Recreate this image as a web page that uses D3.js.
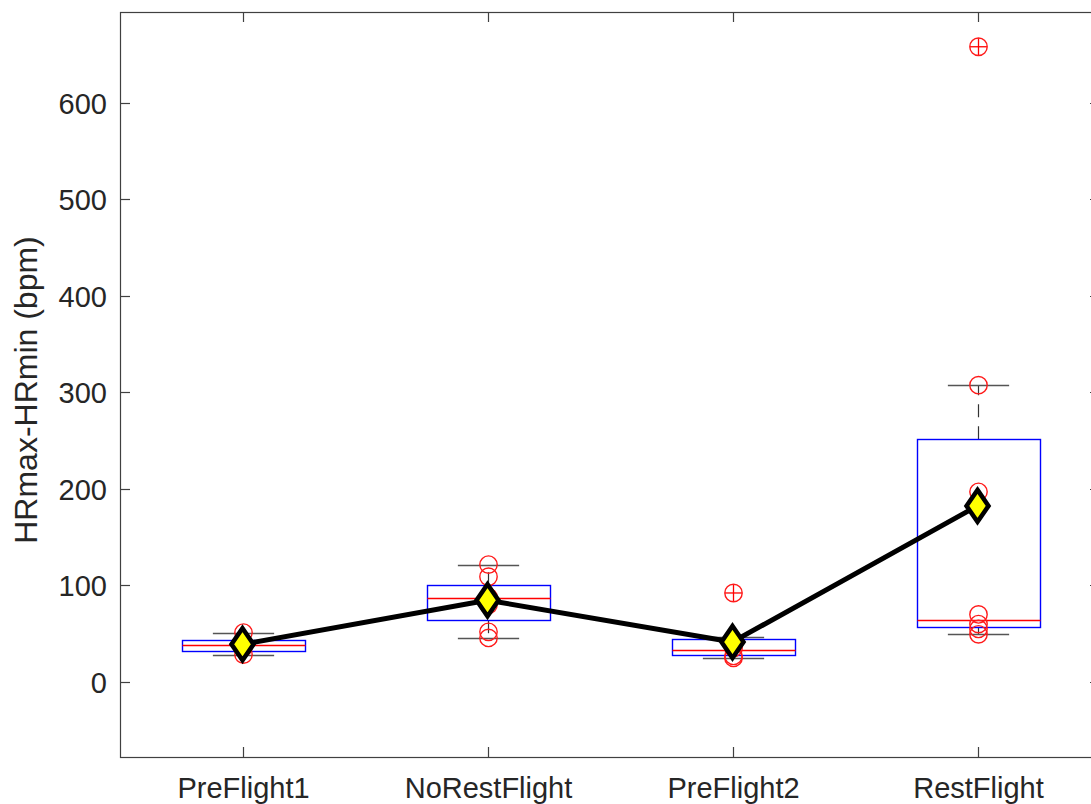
<!DOCTYPE html>
<html>
<head>
<meta charset="utf-8">
<script src="https://cdn.jsdelivr.net/npm/d3@7"></script>
<style>
  html, body { margin: 0; padding: 0; background: #fff; }
  svg { display: block; }
</style>
</head>
<body>
<svg id="chart" width="1091" height="804"></svg>
<script>
// ---- data ----
const categories = ["PreFlight1", "NoRestFlight", "PreFlight2", "RestFlight"];
const q1 = [31.8, 64, 27.7, 57];
const medians = [38.7, 87.5, 33.6, 64.7];
const q3 = [43.2, 100.2, 44.2, 251.5];
const whiskerLow = [28.4, 45.6, 24.9, 49.4];
const whiskerHigh = [51.2, 121.6, 46.6, 307.5];
const outliers = [[], [], [92.2], [658]];
const points = [
  [51.2, 28.4, 40, 36],
  [121.6, 109, 52, 45.6, 88, 80],
  [92.2, 24.9, 27, 35],
  [658, 307.5, 197, 70, 60, 55, 49.4]
];
const means = [39, 84.7, 41.5, 182.4];
const yTicks = [0, 100, 200, 300, 400, 500, 600];
const yLabel = "HRmax-HRmin (bpm)";

(function () {
// ---- layout ----
const pL = 120, pR = 1100, pT = 12, pB = 757;
const svg = d3.select("#chart");
const axisColor = "#404040";
const textColor = "#262626";
const font = "Liberation Sans, Arial, sans-serif";

const x = d3.scaleBand().domain(categories).range([pL, pR]).padding(0);
const y = d3.scaleLinear().domain([-77.7, 694]).range([pB, pT]);
const bw = x.bandwidth();
const cx = c => x(c) + bw / 2;
const snap = v => Math.round(v) + 0.5;

// axes frame
svg.append("rect").attr("x", pL + 0.5).attr("y", pT + 0.5).attr("width", pR - pL).attr("height", pB - pT)
  .attr("fill", "none").attr("stroke", axisColor).attr("stroke-width", 1.2);

// y ticks (left & right, inward)
const tl = 10;
yTicks.forEach(t => {
  const yy = snap(y(t));
  svg.append("line").attr("x1", pL).attr("x2", pL + tl).attr("y1", yy).attr("y2", yy).attr("stroke", axisColor).attr("stroke-width", 1.2);
  svg.append("line").attr("x1", pR - tl).attr("x2", pR).attr("y1", yy).attr("y2", yy).attr("stroke", axisColor).attr("stroke-width", 1.2);
  svg.append("text").attr("x", pL - 13).attr("y", yy).attr("dy", "0.35em").attr("text-anchor", "end")
    .attr("font-family", font).attr("font-size", 29).attr("fill", textColor).text(t);
});
// x ticks (bottom & top, inward)
categories.forEach(c => {
  const xx = snap(cx(c));
  svg.append("line").attr("x1", xx).attr("x2", xx).attr("y1", pB).attr("y2", pB - tl).attr("stroke", axisColor).attr("stroke-width", 1.2);
  svg.append("line").attr("x1", xx).attr("x2", xx).attr("y1", pT).attr("y2", pT + tl).attr("stroke", axisColor).attr("stroke-width", 1.2);
  svg.append("text").attr("x", xx).attr("y", 798).attr("text-anchor", "middle")
    .attr("font-family", font).attr("font-size", 29).attr("fill", textColor).text(c);
});
// y label
svg.append("text").attr("transform", `translate(37, 390) rotate(-90)`)
  .attr("text-anchor", "middle").attr("font-family", font).attr("font-size", 32).attr("fill", textColor).text(yLabel);

const g = svg.append("g");
const boxHalf = bw * 0.25, capHalf = bw * 0.125;

categories.forEach((c, i) => {
  const xc = snap(cx(c));
  // whiskers (dashed)
  g.append("line").attr("x1", xc).attr("x2", xc).attr("y1", y(q3[i])).attr("y2", y(whiskerHigh[i]))
    .attr("stroke", "#333").attr("stroke-width", 1.2).attr("stroke-dasharray", "13,9");
  g.append("line").attr("x1", xc).attr("x2", xc).attr("y1", y(q1[i])).attr("y2", y(whiskerLow[i]))
    .attr("stroke", "#333").attr("stroke-width", 1.2).attr("stroke-dasharray", "13,9");
  // caps
  [whiskerHigh[i], whiskerLow[i]].forEach(v => {
    const yy = snap(y(v));
    g.append("line").attr("x1", xc - capHalf).attr("x2", xc + capHalf).attr("y1", yy).attr("y2", yy)
      .attr("stroke", "#555").attr("stroke-width", 1.5);
  });
  // box
  const bt = snap(y(q3[i])), bb = snap(y(q1[i]));
  const bl = snap(xc - boxHalf), br = snap(xc + boxHalf);
  g.append("rect").attr("x", bl).attr("y", bt).attr("width", br - bl).attr("height", bb - bt)
    .attr("fill", "none").attr("stroke", "#0000ff").attr("stroke-width", 1.4);
  // median
  const my = snap(y(medians[i]));
  g.append("line").attr("x1", bl).attr("x2", br).attr("y1", my).attr("y2", my)
    .attr("stroke", "#ff0000").attr("stroke-width", 1.3);
  // outliers (+)
  outliers[i].forEach(v => {
    const yy = y(v), s = 8.5;
    g.append("line").attr("x1", xc - s).attr("x2", xc + s).attr("y1", yy).attr("y2", yy).attr("stroke", "#ff0000").attr("stroke-width", 1.3);
    g.append("line").attr("x1", xc).attr("x2", xc).attr("y1", yy - s).attr("y2", yy + s).attr("stroke", "#ff0000").attr("stroke-width", 1.3);
  });
  // data points (circles)
  points[i].forEach(v => {
    g.append("circle").attr("cx", xc).attr("cy", y(v)).attr("r", 8.7)
      .attr("fill", "none").attr("stroke", "#ff1a1a").attr("stroke-width", 1.4);
  });
});

// mean line
const line = d3.line().x((d, i) => cx(categories[i])).y(d => y(d));
svg.append("path").datum(means).attr("d", line).attr("fill", "none").attr("stroke", "#000").attr("stroke-width", 5)
  .attr("stroke-linejoin", "round");
// mean diamonds
means.forEach((m, i) => {
  const xc = cx(categories[i]), yc = y(m), hw = 11, hh = 16;
  svg.append("path").attr("d", `M${xc},${yc - hh}L${xc + hw},${yc}L${xc},${yc + hh}L${xc - hw},${yc}Z`)
    .attr("fill", "#ffff00").attr("stroke", "#000").attr("stroke-width", 4.5).attr("stroke-linejoin", "miter");
});
})();
</script>
</body>
</html>
